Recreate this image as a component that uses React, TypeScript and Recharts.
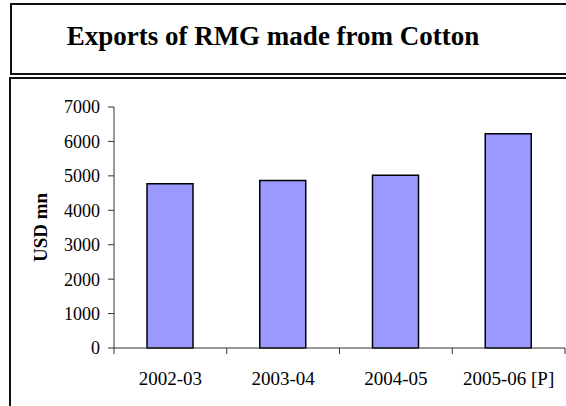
import { Bar, BarChart, XAxis, YAxis } from "recharts"

const years = ["2002-03", "2003-04", "2004-05", "2005-06 [P]"]
const exportsUsdMn = [4770, 4865, 5015, 6220]
const yTicks = [0, 1000, 2000, 3000, 4000, 5000, 6000, 7000]

const data = years.map((year, i) => ({ year, value: exportsUsdMn[i] }))

const serif = '"Liberation Serif", "Times New Roman", serif'

function YearTick(props: any) {
  const { x, y, payload, index, visibleTicksCount } = props
  const half = payload?.offset ?? 56.4
  const axisY = y - 8
  const isLast = index === (visibleTicksCount ?? years.length) - 1
  return (
    <g>
      <line x1={x - half} x2={x - half} y1={axisY} y2={axisY + 6} stroke="#333" />
      {isLast && (
        <line x1={x + half} x2={x + half} y1={axisY} y2={axisY + 6} stroke="#333" />
      )}
      <text
        x={x}
        y={axisY + 37}
        textAnchor="middle"
        style={{ fontFamily: serif }}
        fontSize={19}
        fill="#000"
      >
        {payload.value}
      </text>
    </g>
  )
}

function UnitLabel({ viewBox }: any) {
  const cx = viewBox.x + 40
  const cy = viewBox.y + viewBox.height / 2
  return (
    <text
      x={cx}
      y={cy}
      transform={`rotate(-90, ${cx}, ${cy})`}
      textAnchor="middle"
      dominantBaseline="central"
      style={{ fontFamily: serif }}
      fontWeight="bold"
      fontSize={19}
      fill="#000"
    >
      USD mn
    </text>
  )
}

export default function App() {
  return (
    <div
      style={{
        position: "fixed",
        left: 0,
        top: 0,
        width: 566,
        height: 406,
        background: "#fff",
        overflow: "hidden",
      }}
    >
      <div
        style={{
          position: "absolute",
          left: 10,
          top: 3,
          width: 620,
          height: 68,
          border: "2px solid #111",
        }}
      />
      <div
        style={{
          position: "absolute",
          left: 11,
          width: 524,
          top: 23,
          textAlign: "center",
          fontFamily: serif,
          fontWeight: "bold",
          fontSize: 27,
          lineHeight: "27px",
          color: "#000",
          whiteSpace: "nowrap",
        }}
      >
        Exports of RMG made from Cotton
      </div>
      <div
        style={{
          position: "absolute",
          left: 9,
          top: 77,
          width: 620,
          height: 400,
          border: "2px solid #111",
        }}
      />
      <div style={{ position: "absolute", left: 0, top: 0 }}>
        <BarChart
          width={566}
          height={406}
          data={data}
          margin={{ top: 107, right: 1, bottom: 28, left: 0 }}
        >
          <XAxis
            dataKey="year"
            height={30}
            tickSize={6}
            tickMargin={2}
            tickLine={false}
            axisLine={{ stroke: "#333" }}
            tick={<YearTick />}
            interval={0}
          />
          <YAxis
            width={114}
            domain={[0, 7000]}
            ticks={yTicks}
            interval={0}
            tickSize={6}
            tickMargin={8}
            axisLine={{ stroke: "#333" }}
            tickLine={{ stroke: "#333" }}
            tick={{ fill: "#000", fontSize: 18, style: { fontFamily: serif } }}
            label={<UnitLabel />}
          />
          <Bar
            dataKey="value"
            fill="#9999ff"
            stroke="#000"
            strokeWidth={1.5}
            barSize={46}
            isAnimationActive={false}
          />
        </BarChart>
      </div>
    </div>
  )
}
